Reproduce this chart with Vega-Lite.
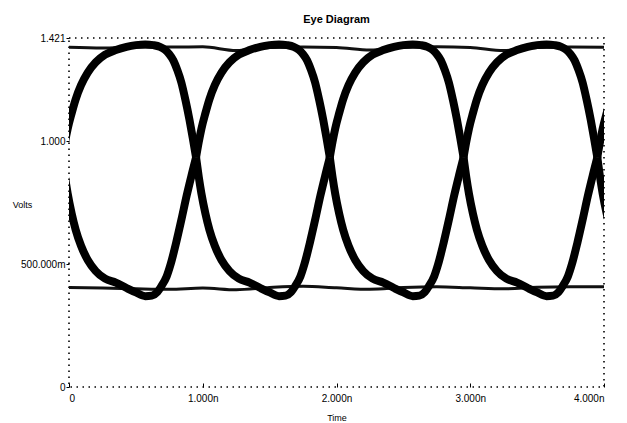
{
  "$schema": "https://vega.github.io/schema/vega-lite/v6.json",
  "width": 535,
  "height": 349,
  "autosize": {"type": "none"},
  "padding": {"left": 69, "top": 38, "right": 23, "bottom": 36},
  "background": "white",
  "title": {"text": "Eye Diagram", "fontSize": 11, "fontWeight": "bold", "font": "Liberation Sans", "anchor": "middle", "offset": 8, "color": "#000"},
  "config": {
    "view": {"stroke": "#000", "strokeDash": [1.5, 4.5], "strokeWidth": 1.6},
    "axis": {"grid": false, "domain": false, "labelFont": "Liberation Sans", "labelFontSize": 10, "labelColor": "#000", "titleFont": "Liberation Sans", "titleFontSize": 9, "titleFontWeight": "normal", "titleColor": "#000", "tickColor": "#000"}
  },
  "datasets": {
    "flat": [
      {"s": "hi", "t": 0, "v": 1.383}, {"s": "hi", "t": 0.25, "v": 1.38}, {"s": "hi", "t": 0.5, "v": 1.385}, {"s": "hi", "t": 0.75, "v": 1.384},
      {"s": "hi", "t": 1, "v": 1.385}, {"s": "hi", "t": 1.25, "v": 1.37}, {"s": "hi", "t": 1.5, "v": 1.382}, {"s": "hi", "t": 1.75, "v": 1.384},
      {"s": "hi", "t": 2, "v": 1.382}, {"s": "hi", "t": 2.25, "v": 1.372}, {"s": "hi", "t": 2.5, "v": 1.383}, {"s": "hi", "t": 2.75, "v": 1.385},
      {"s": "hi", "t": 3, "v": 1.382}, {"s": "hi", "t": 3.25, "v": 1.37}, {"s": "hi", "t": 3.5, "v": 1.382}, {"s": "hi", "t": 3.75, "v": 1.384},
      {"s": "hi", "t": 4, "v": 1.383},
      {"s": "lo", "t": 0, "v": 0.405}, {"s": "lo", "t": 0.25, "v": 0.403}, {"s": "lo", "t": 0.5, "v": 0.4}, {"s": "lo", "t": 0.75, "v": 0.398},
      {"s": "lo", "t": 1, "v": 0.403}, {"s": "lo", "t": 1.25, "v": 0.396}, {"s": "lo", "t": 1.5, "v": 0.405}, {"s": "lo", "t": 1.75, "v": 0.41},
      {"s": "lo", "t": 2, "v": 0.404}, {"s": "lo", "t": 2.25, "v": 0.398}, {"s": "lo", "t": 2.5, "v": 0.405}, {"s": "lo", "t": 2.75, "v": 0.408},
      {"s": "lo", "t": 3, "v": 0.404}, {"s": "lo", "t": 3.25, "v": 0.4}, {"s": "lo", "t": 3.5, "v": 0.406}, {"s": "lo", "t": 3.75, "v": 0.408},
      {"s": "lo", "t": 4, "v": 0.408}
    ],
    "arcs": [
      {"s": "u0", "t": -0.05, "v": 0.935}, {"s": "u0", "t": -0.03, "v": 0.997}, {"s": "u0", "t": -0.01, "v": 1.051}, {"s": "u0", "t": 0.02, "v": 1.115},
      {"s": "u0", "t": 0.05, "v": 1.172}, {"s": "u0", "t": 0.09, "v": 1.229}, {"s": "u0", "t": 0.14, "v": 1.28}, {"s": "u0", "t": 0.2, "v": 1.322},
      {"s": "u0", "t": 0.27, "v": 1.353}, {"s": "u0", "t": 0.35, "v": 1.372}, {"s": "u0", "t": 0.43, "v": 1.385}, {"s": "u0", "t": 0.5, "v": 1.392},
      {"s": "u0", "t": 0.57, "v": 1.395}, {"s": "u0", "t": 0.63, "v": 1.392}, {"s": "u0", "t": 0.68, "v": 1.385}, {"s": "u0", "t": 0.72, "v": 1.372},
      {"s": "u0", "t": 0.75, "v": 1.355}, {"s": "u0", "t": 0.78, "v": 1.33}, {"s": "u0", "t": 0.81, "v": 1.29}, {"s": "u0", "t": 0.84, "v": 1.24},
      {"s": "u0", "t": 0.87, "v": 1.17}, {"s": "u0", "t": 0.9, "v": 1.09}, {"s": "u0", "t": 0.925, "v": 1.015}, {"s": "u0", "t": 0.95, "v": 0.935},
      {"s": "u1", "t": 0.95, "v": 0.935}, {"s": "u1", "t": 0.97, "v": 0.997}, {"s": "u1", "t": 0.99, "v": 1.051}, {"s": "u1", "t": 1.02, "v": 1.115},
      {"s": "u1", "t": 1.05, "v": 1.172}, {"s": "u1", "t": 1.09, "v": 1.229}, {"s": "u1", "t": 1.14, "v": 1.28}, {"s": "u1", "t": 1.2, "v": 1.322},
      {"s": "u1", "t": 1.27, "v": 1.353}, {"s": "u1", "t": 1.35, "v": 1.372}, {"s": "u1", "t": 1.43, "v": 1.385}, {"s": "u1", "t": 1.5, "v": 1.392},
      {"s": "u1", "t": 1.57, "v": 1.395}, {"s": "u1", "t": 1.63, "v": 1.392}, {"s": "u1", "t": 1.68, "v": 1.385}, {"s": "u1", "t": 1.72, "v": 1.372},
      {"s": "u1", "t": 1.75, "v": 1.355}, {"s": "u1", "t": 1.78, "v": 1.33}, {"s": "u1", "t": 1.81, "v": 1.29}, {"s": "u1", "t": 1.84, "v": 1.24},
      {"s": "u1", "t": 1.87, "v": 1.17}, {"s": "u1", "t": 1.9, "v": 1.09}, {"s": "u1", "t": 1.925, "v": 1.015}, {"s": "u1", "t": 1.95, "v": 0.935},
      {"s": "u2", "t": 1.95, "v": 0.935}, {"s": "u2", "t": 1.97, "v": 0.997}, {"s": "u2", "t": 1.99, "v": 1.051}, {"s": "u2", "t": 2.02, "v": 1.115},
      {"s": "u2", "t": 2.05, "v": 1.172}, {"s": "u2", "t": 2.09, "v": 1.229}, {"s": "u2", "t": 2.14, "v": 1.28}, {"s": "u2", "t": 2.2, "v": 1.322},
      {"s": "u2", "t": 2.27, "v": 1.353}, {"s": "u2", "t": 2.35, "v": 1.372}, {"s": "u2", "t": 2.43, "v": 1.385}, {"s": "u2", "t": 2.5, "v": 1.392},
      {"s": "u2", "t": 2.57, "v": 1.395}, {"s": "u2", "t": 2.63, "v": 1.392}, {"s": "u2", "t": 2.68, "v": 1.385}, {"s": "u2", "t": 2.72, "v": 1.372},
      {"s": "u2", "t": 2.75, "v": 1.355}, {"s": "u2", "t": 2.78, "v": 1.33}, {"s": "u2", "t": 2.81, "v": 1.29}, {"s": "u2", "t": 2.84, "v": 1.24},
      {"s": "u2", "t": 2.87, "v": 1.17}, {"s": "u2", "t": 2.9, "v": 1.09}, {"s": "u2", "t": 2.925, "v": 1.015}, {"s": "u2", "t": 2.95, "v": 0.935},
      {"s": "u3", "t": 2.95, "v": 0.935}, {"s": "u3", "t": 2.97, "v": 0.997}, {"s": "u3", "t": 2.99, "v": 1.051}, {"s": "u3", "t": 3.02, "v": 1.115},
      {"s": "u3", "t": 3.05, "v": 1.172}, {"s": "u3", "t": 3.09, "v": 1.229}, {"s": "u3", "t": 3.14, "v": 1.28}, {"s": "u3", "t": 3.2, "v": 1.322},
      {"s": "u3", "t": 3.27, "v": 1.353}, {"s": "u3", "t": 3.35, "v": 1.372}, {"s": "u3", "t": 3.43, "v": 1.385}, {"s": "u3", "t": 3.5, "v": 1.392},
      {"s": "u3", "t": 3.57, "v": 1.395}, {"s": "u3", "t": 3.63, "v": 1.392}, {"s": "u3", "t": 3.68, "v": 1.385}, {"s": "u3", "t": 3.72, "v": 1.372},
      {"s": "u3", "t": 3.75, "v": 1.355}, {"s": "u3", "t": 3.78, "v": 1.33}, {"s": "u3", "t": 3.81, "v": 1.29}, {"s": "u3", "t": 3.84, "v": 1.24},
      {"s": "u3", "t": 3.87, "v": 1.17}, {"s": "u3", "t": 3.9, "v": 1.09}, {"s": "u3", "t": 3.925, "v": 1.015}, {"s": "u3", "t": 3.95, "v": 0.935},
      {"s": "u4", "t": 3.95, "v": 0.935}, {"s": "u4", "t": 3.97, "v": 0.997}, {"s": "u4", "t": 3.99, "v": 1.051}, {"s": "u4", "t": 4.02, "v": 1.115},
      {"s": "u4", "t": 4.05, "v": 1.172}, {"s": "u4", "t": 4.09, "v": 1.229},
      {"s": "l0", "t": -0.05, "v": 0.935}, {"s": "l0", "t": -0.03, "v": 0.856}, {"s": "l0", "t": -0.01, "v": 0.788}, {"s": "l0", "t": 0.02, "v": 0.706},
      {"s": "l0", "t": 0.05, "v": 0.64}, {"s": "l0", "t": 0.09, "v": 0.575}, {"s": "l0", "t": 0.14, "v": 0.517}, {"s": "l0", "t": 0.2, "v": 0.472},
      {"s": "l0", "t": 0.27, "v": 0.441}, {"s": "l0", "t": 0.35, "v": 0.425}, {"s": "l0", "t": 0.43, "v": 0.403}, {"s": "l0", "t": 0.5, "v": 0.385},
      {"s": "l0", "t": 0.57, "v": 0.37}, {"s": "l0", "t": 0.62, "v": 0.372}, {"s": "l0", "t": 0.66, "v": 0.386}, {"s": "l0", "t": 0.69, "v": 0.41},
      {"s": "l0", "t": 0.73, "v": 0.45}, {"s": "l0", "t": 0.76, "v": 0.5}, {"s": "l0", "t": 0.8, "v": 0.585}, {"s": "l0", "t": 0.84, "v": 0.68},
      {"s": "l0", "t": 0.88, "v": 0.78}, {"s": "l0", "t": 0.92, "v": 0.87}, {"s": "l0", "t": 0.95, "v": 0.935},
      {"s": "l1", "t": 0.95, "v": 0.935}, {"s": "l1", "t": 0.97, "v": 0.856}, {"s": "l1", "t": 0.99, "v": 0.788}, {"s": "l1", "t": 1.02, "v": 0.706},
      {"s": "l1", "t": 1.05, "v": 0.64}, {"s": "l1", "t": 1.09, "v": 0.575}, {"s": "l1", "t": 1.14, "v": 0.517}, {"s": "l1", "t": 1.2, "v": 0.472},
      {"s": "l1", "t": 1.27, "v": 0.441}, {"s": "l1", "t": 1.35, "v": 0.425}, {"s": "l1", "t": 1.43, "v": 0.403}, {"s": "l1", "t": 1.5, "v": 0.385},
      {"s": "l1", "t": 1.57, "v": 0.37}, {"s": "l1", "t": 1.62, "v": 0.372}, {"s": "l1", "t": 1.66, "v": 0.386}, {"s": "l1", "t": 1.69, "v": 0.41},
      {"s": "l1", "t": 1.73, "v": 0.45}, {"s": "l1", "t": 1.76, "v": 0.5}, {"s": "l1", "t": 1.8, "v": 0.585}, {"s": "l1", "t": 1.84, "v": 0.68},
      {"s": "l1", "t": 1.88, "v": 0.78}, {"s": "l1", "t": 1.92, "v": 0.87}, {"s": "l1", "t": 1.95, "v": 0.935},
      {"s": "l2", "t": 1.95, "v": 0.935}, {"s": "l2", "t": 1.97, "v": 0.856}, {"s": "l2", "t": 1.99, "v": 0.788}, {"s": "l2", "t": 2.02, "v": 0.706},
      {"s": "l2", "t": 2.05, "v": 0.64}, {"s": "l2", "t": 2.09, "v": 0.575}, {"s": "l2", "t": 2.14, "v": 0.517}, {"s": "l2", "t": 2.2, "v": 0.472},
      {"s": "l2", "t": 2.27, "v": 0.441}, {"s": "l2", "t": 2.35, "v": 0.425}, {"s": "l2", "t": 2.43, "v": 0.403}, {"s": "l2", "t": 2.5, "v": 0.385},
      {"s": "l2", "t": 2.57, "v": 0.37}, {"s": "l2", "t": 2.62, "v": 0.372}, {"s": "l2", "t": 2.66, "v": 0.386}, {"s": "l2", "t": 2.69, "v": 0.41},
      {"s": "l2", "t": 2.73, "v": 0.45}, {"s": "l2", "t": 2.76, "v": 0.5}, {"s": "l2", "t": 2.8, "v": 0.585}, {"s": "l2", "t": 2.84, "v": 0.68},
      {"s": "l2", "t": 2.88, "v": 0.78}, {"s": "l2", "t": 2.92, "v": 0.87}, {"s": "l2", "t": 2.95, "v": 0.935},
      {"s": "l3", "t": 2.95, "v": 0.935}, {"s": "l3", "t": 2.97, "v": 0.856}, {"s": "l3", "t": 2.99, "v": 0.788}, {"s": "l3", "t": 3.02, "v": 0.706},
      {"s": "l3", "t": 3.05, "v": 0.64}, {"s": "l3", "t": 3.09, "v": 0.575}, {"s": "l3", "t": 3.14, "v": 0.517}, {"s": "l3", "t": 3.2, "v": 0.472},
      {"s": "l3", "t": 3.27, "v": 0.441}, {"s": "l3", "t": 3.35, "v": 0.425}, {"s": "l3", "t": 3.43, "v": 0.403}, {"s": "l3", "t": 3.5, "v": 0.385},
      {"s": "l3", "t": 3.57, "v": 0.37}, {"s": "l3", "t": 3.62, "v": 0.372}, {"s": "l3", "t": 3.66, "v": 0.386}, {"s": "l3", "t": 3.69, "v": 0.41},
      {"s": "l3", "t": 3.73, "v": 0.45}, {"s": "l3", "t": 3.76, "v": 0.5}, {"s": "l3", "t": 3.8, "v": 0.585}, {"s": "l3", "t": 3.84, "v": 0.68},
      {"s": "l3", "t": 3.88, "v": 0.78}, {"s": "l3", "t": 3.92, "v": 0.87}, {"s": "l3", "t": 3.95, "v": 0.935},
      {"s": "l4", "t": 3.95, "v": 0.935}, {"s": "l4", "t": 3.97, "v": 0.856}, {"s": "l4", "t": 3.99, "v": 0.788}, {"s": "l4", "t": 4.02, "v": 0.706},
      {"s": "l4", "t": 4.05, "v": 0.64}, {"s": "l4", "t": 4.09, "v": 0.575}
    ]
  },
  "layer": [
    {
      "data": {"name": "flat"},
      "mark": {"type": "line", "clip": true, "color": "#111", "strokeWidth": 3, "interpolate": "monotone"},
      "encoding": {
        "x": {"field": "t", "type": "quantitative", "scale": {"domain": [0, 4], "nice": false, "zero": false},
          "axis": {"values": [0, 1, 2, 3, 4], "labelExpr": "datum.value == 0 ? '0' : format(datum.value, '.3f') + 'n'", "title": "Time", "tickSize": -4, "labelPadding": 10, "titlePadding": 10}},
        "y": {"field": "v", "type": "quantitative", "scale": {"domain": [0, 1.421], "nice": false, "zero": false},
          "axis": {"values": [0, 0.5, 1, 1.421], "labelExpr": "datum.value == 0 ? '0' : datum.value == 0.5 ? '500.000m' : datum.value == 1 ? '1.000' : '1.421'", "title": "Volts", "titleAngle": 0, "titleX": -47, "titleY": 166, "titleAlign": "center", "titleBaseline": "middle", "tickSize": 3, "labelPadding": 1}},
        "detail": {"field": "s"},
        "order": {"field": "t", "type": "quantitative"}
      }
    },
    {
      "data": {"name": "arcs"},
      "mark": {"type": "line", "clip": true, "color": "#000", "strokeWidth": 8, "interpolate": "monotone"},
      "encoding": {
        "x": {"field": "t", "type": "quantitative"},
        "y": {"field": "v", "type": "quantitative"},
        "detail": {"field": "s"},
        "order": {"field": "t", "type": "quantitative"}
      }
    }
  ]
}
